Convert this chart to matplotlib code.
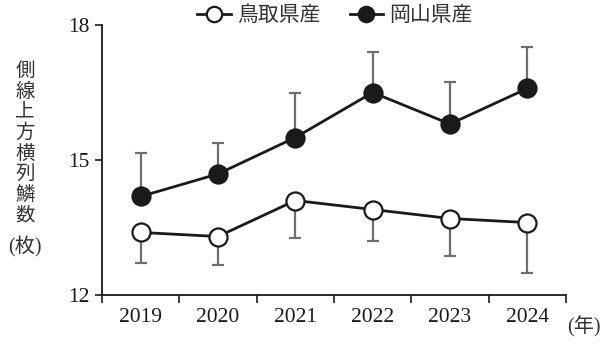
import matplotlib
matplotlib.use("Agg")
import matplotlib.pyplot as plt
import numpy as np

years = ["2019", "2020", "2021", "2022", "2023", "2024"]
tottori = [13.39, 13.30, 14.10, 13.90, 13.70, 13.61]
tottori_err_down = [0.68, 0.63, 0.83, 0.69, 0.83, 1.12]
okayama = [14.19, 14.69, 15.50, 16.50, 15.80, 16.59]
okayama_err_up = [0.97, 0.68, 0.98, 0.89, 0.93, 0.92]
series_names = ["鳥取県産", "岡山県産"]
y_ticks = [12, 15, 18]
y_label = "側線上方横列鱗数"
y_unit = "(枚)"
x_unit = "(年)"

SERIF = ["Liberation Serif", "Noto Sans CJK JP"]
plt.rcParams["font.family"] = SERIF

fig = plt.figure(figsize=(6.02, 3.44), dpi=100)
ax = fig.add_axes([102 / 602, 49 / 344, 464 / 602, 270 / 344])

x = np.arange(len(years))
ink = "#1a1a1a"
errc = "#6e6e6e"

z = np.zeros(len(years))
ax.errorbar(x, okayama, yerr=[z, okayama_err_up], fmt="none", ecolor=errc,
            elinewidth=1.6, capsize=4, capthick=1.6, zorder=1)
ax.errorbar(x, tottori, yerr=[tottori_err_down, z], fmt="none", ecolor=errc,
            elinewidth=1.6, capsize=4, capthick=1.6, zorder=1)

ax.plot(x, tottori, color=ink, lw=2.0, marker="o", ms=13, mfc="white",
        mec=ink, mew=1.6, zorder=3, label=series_names[0])
ax.plot(x, okayama, color=ink, lw=2.0, marker="o", ms=13, mfc=ink,
        mec=ink, mew=1.6, zorder=3, label=series_names[1])

ax.set_xlim(-0.5, len(years) - 0.5)
ax.set_ylim(12, 18)
ax.set_yticks(y_ticks)
ax.set_yticklabels([str(v) for v in y_ticks], fontsize=15.5)
ax.set_xticks(x)
ax.set_xticklabels(years, fontsize=15.5)
ax.set_xticks(np.arange(len(years) + 1) - 0.5, minor=True)
ax.tick_params(axis="x", which="major", length=0, pad=9, colors=ink)
ax.tick_params(axis="x", which="minor", length=6, width=1.2, color=ink)
ax.tick_params(axis="y", length=5, width=1.2, pad=4, colors=ink)

for s in ["top", "right"]:
    ax.spines[s].set_visible(False)
for s in ["left", "bottom"]:
    ax.spines[s].set_linewidth(1.3)
    ax.spines[s].set_color(ink)

# vertical axis title, one character per line
fig.text(25 / 602, 1 - 143 / 344, "\n".join(y_label), ha="center", va="center",
         fontsize=14, linespacing=1.2, color="#333333")
fig.text(25 / 602, 1 - 247 / 344, y_unit, ha="center", va="center",
         fontsize=14.5, color="#333333")
fig.text(584 / 602, 1 - 327 / 344, x_unit, ha="center", va="center",
         fontsize=14.5, color="#333333")

leg = fig.legend(loc="center", bbox_to_anchor=(335 / 602, 1 - 16 / 344), ncol=2,
                 frameon=False, fontsize=15, handlelength=1.6,
                 handletextpad=0.3, columnspacing=1.4, borderpad=0,
                 markerscale=0.85)
for t in leg.get_texts():
    t.set_color("#333333")

fig.savefig("out.png", dpi=100)
